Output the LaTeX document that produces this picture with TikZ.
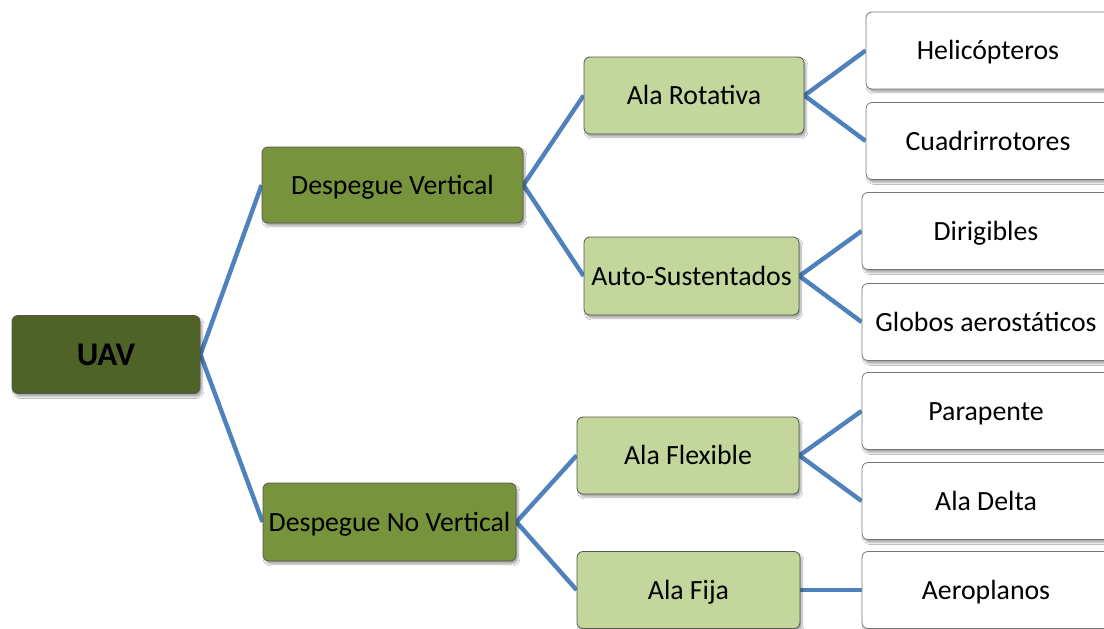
\documentclass[tikz,border=0pt]{standalone}
\usepackage{fontspec}
\setmainfont{Carlito}
\usetikzlibrary{shadows.blur,backgrounds}
\definecolor{rootgreen}{HTML}{4F6228}
\definecolor{midgreen}{HTML}{77933C}
\definecolor{lightgreen}{HTML}{C3D69B}
\definecolor{linkblue}{HTML}{4F81BD}
\definecolor{edgegrey}{HTML}{555555}
\tikzset{
  box/.style={draw=edgegrey, line width=0.8pt, rounded corners=6pt,
    inner sep=0pt, text height=18pt, text depth=0pt,
    font=\fontsize{27.8}{30}\selectfont, text=black,
    blur shadow={shadow xshift=2pt, shadow yshift=-3pt, shadow blur steps=6, shadow opacity=35}},
  rootbox/.style={box, fill=rootgreen, font=\fontsize{33}{36}\selectfont\bfseries, text height=21pt},
  levelone/.style={box, fill=midgreen},
  leveltwo/.style={box, fill=lightgreen},
  leafbox/.style={box, fill=white, draw=edgegrey!80, minimum width=248pt, minimum height=77pt},
  link/.style={draw=linkblue, line width=4.4pt},
}
\begin{document}
\begin{tikzpicture}[x=1pt, y=-1pt]
  \useasboundingbox (0,0) rectangle (1104,629);
  \clip (0,0) rectangle (1104,629);

  % root and first level
  \node[rootbox, minimum width=188pt, minimum height=78pt] (uav) at (106,354.5) {UAV};
  \node[levelone, minimum width=261pt, minimum height=76pt] (dv) at (392.5,185) {Despegue Vertical};
  \node[levelone, minimum width=253pt, minimum height=78pt] (dnv) at (389.5,522) {Despegue No Vertical};

  % second level
  \node[leveltwo, minimum width=220pt, minimum height=77pt] (ar) at (694,95.5) {Ala Rotativa};
  \node[leveltwo, minimum width=215pt, minimum height=78pt] (as) at (691.5,276) {Auto-Sustentados};
  \node[leveltwo, minimum width=222pt, minimum height=77pt] (afl) at (688,455.5) {Ala Flexible};
  \node[leveltwo, minimum width=223pt, minimum height=77pt] (afi) at (688.5,590) {Ala Fija};

  % leaves
  \node[leafbox, minimum width=244pt] (heli) at (988,50.5) {Helicópteros};
  \node[leafbox, minimum width=244pt] (cuad) at (988,141) {Cuadrirrotores};
  \node[leafbox] (dir) at (986,231) {Dirigibles};
  \node[leafbox] (glob) at (986,322) {Globos aerostáticos};
  \node[leafbox] (para) at (986,411) {Parapente};
  \node[leafbox] (delta) at (986,501) {Ala Delta};
  \node[leafbox] (aero) at (986,590) {Aeroplanos};

  % white page and connectors, behind the boxes
  \begin{scope}[on background layer]
    \fill[white] (0,0) rectangle (1104,629);
    \draw[link] (uav.east) -- (dv.west);
    \draw[link] (uav.east) -- (dnv.west);
    \draw[link] (dv.east) -- (ar.west);
    \draw[link] (dv.east) -- (as.west);
    \draw[link] (dnv.east) -- (afl.west);
    \draw[link] (dnv.east) -- (afi.west);
    \draw[link] (ar.east) -- (heli.west);
    \draw[link] (ar.east) -- (cuad.west);
    \draw[link] (as.east) -- (dir.west);
    \draw[link] (as.east) -- (glob.west);
    \draw[link] (afl.east) -- (para.west);
    \draw[link] (afl.east) -- (delta.west);
    \draw[link] (afi.east) -- (aero.west);
  \end{scope}
\end{tikzpicture}
\end{document}
